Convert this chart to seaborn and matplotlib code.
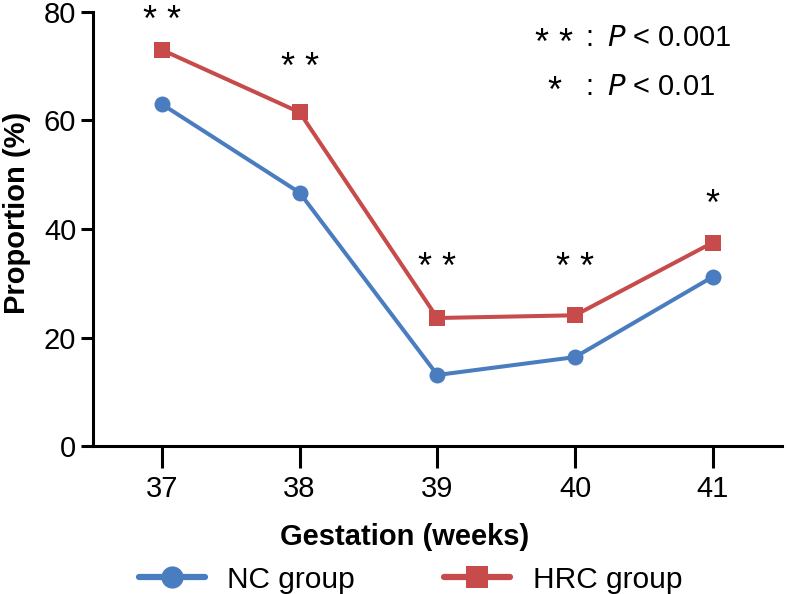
import matplotlib
matplotlib.use("Agg")
import matplotlib.pyplot as plt
import seaborn as sns
import pandas as pd
from matplotlib.lines import Line2D

weeks = [37, 38, 39, 40, 41]
nc_values = [63.0, 46.7, 13.1, 16.4, 31.2]
hrc_values = [73.0, 61.5, 23.6, 24.1, 37.5]
groups = ["NC group", "HRC group"]
stars = ["* *", "* *", "* *", "* *", "*"]
star_y = [78.3, 69.6, 32.8, 32.8, 44.3]
colors = {"NC group": "#4a7cc0", "HRC group": "#c74b4b"}
markers = {"NC group": "o", "HRC group": "s"}

df = pd.DataFrame({
    "week": weeks * 2,
    "value": nc_values + hrc_values,
    "group": [groups[0]] * 5 + [groups[1]] * 5,
})

sns.set_style("ticks")
plt.rcParams["font.family"] = ["Liberation Sans", "DejaVu Sans"]
for k in ["text.color", "axes.labelcolor", "xtick.color", "ytick.color", "axes.edgecolor"]:
    plt.rcParams[k] = "black"

fig = plt.figure(figsize=(7.88, 5.94), dpi=100)
ax = fig.add_axes([0.118, 0.249, 0.874, 0.731])

sns.lineplot(data=df, x="week", y="value", hue="group", style="group",
             palette=colors, markers=markers, dashes=False, ax=ax,
             linewidth=2.9, markersize=11.5, markeredgewidth=0, legend=False)

ax.set_xlim(36.5, 41.5)
ax.set_ylim(0, 80)
ax.set_xticks(weeks)
ax.set_yticks([0, 20, 40, 60, 80])
ax.tick_params(axis="x", length=16, width=2.2, labelsize=21, pad=5)
ax.tick_params(axis="y", length=9, width=2.2, labelsize=21, pad=3)
for s in ["left", "bottom"]:
    ax.spines[s].set_linewidth(2.2)
for s in ["top", "right"]:
    ax.spines[s].set_visible(False)

ax.set_xlabel("Gestation (weeks)", fontsize=21, fontweight="bold", va="center")
ax.set_ylabel("Proportion (%)", fontsize=21, fontweight="bold", va="center", ha="center")
ax.xaxis.set_label_coords(0.453, -0.21)
ax.yaxis.set_label_coords(-0.11, 0.537)

for w, s, yv in zip(weeks, stars, star_y):
    ax.text(w, yv, s, ha="center", va="center", fontsize=26)

ax.text(0.670, 0.925, "* *", transform=ax.transAxes, ha="center", va="center", fontsize=26)
ax.text(0.721, 0.94, ":", transform=ax.transAxes, ha="center", va="center", fontsize=21)
ax.text(0.746, 0.94, r"$\it{P}$ < 0.001", transform=ax.transAxes, ha="left", va="center", fontsize=21)
ax.text(0.670, 0.815, "*", transform=ax.transAxes, ha="center", va="center", fontsize=26)
ax.text(0.721, 0.828, ":", transform=ax.transAxes, ha="center", va="center", fontsize=21)
ax.text(0.746, 0.828, r"$\it{P}$ < 0.01", transform=ax.transAxes, ha="left", va="center", fontsize=21)

handles = [Line2D([0], [0], color=colors[g], marker=markers[g], linewidth=4.5,
                  markersize=16, markeredgewidth=0) for g in groups]
fig.legend(handles, groups, loc="lower center", bbox_to_anchor=(0.521, -0.045),
           ncol=2, frameon=False, fontsize=21.5, handlelength=2.2,
           columnspacing=3.0, handletextpad=0.75)

fig.savefig("out.png", dpi=100)
